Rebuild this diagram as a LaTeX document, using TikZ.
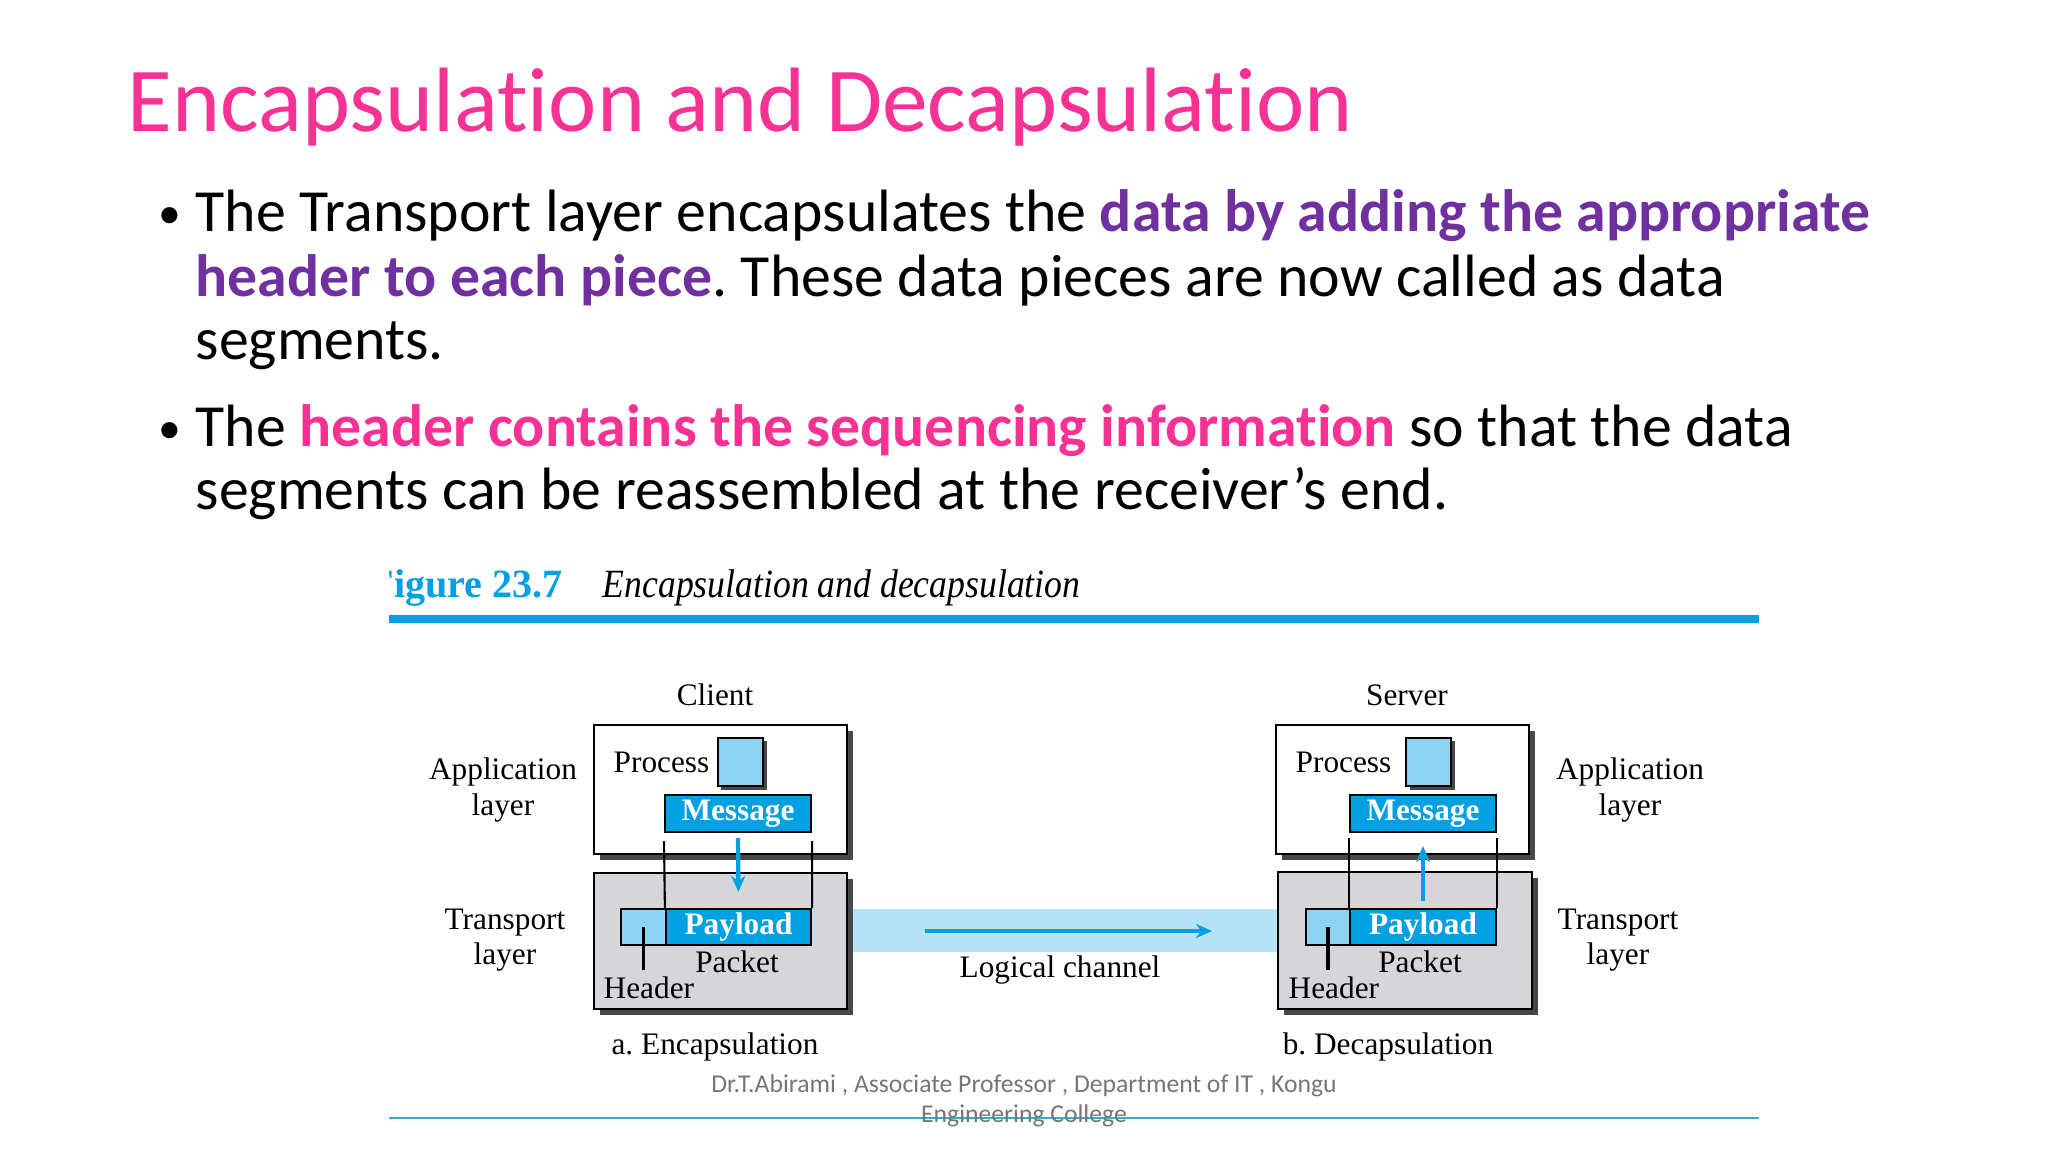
\documentclass[tikz,border=0pt]{standalone}
\usepackage{fontspec}
\setmainfont[Ligatures=NoCommon]{Carlito}
\newfontfamily\figfont{Liberation Serif}
\newfontfamily\capfont[FakeStretch=0.89]{Liberation Serif}
\usetikzlibrary{shadows,arrows.meta}
\frenchspacing

\definecolor{titlepink}{RGB}{248,50,148}
\definecolor{notepurple}{RGB}{112,48,160}
\definecolor{figblue}{RGB}{0,160,226}
\definecolor{procblue}{RGB}{140,212,242}
\definecolor{chanblue}{RGB}{182,226,246}
\definecolor{layergray}{RGB}{214,214,218}
\definecolor{shadowgray}{RGB}{72,72,72}
\definecolor{footgray}{RGB}{118,118,118}
\definecolor{rulecyan}{RGB}{60,170,205}

\tikzset{
  bodytext/.style={anchor=base west, inner sep=0, font=\fontsize{17}{17}\selectfont},
  bulletdot/.style={anchor=base west, inner sep=0, font=\fontsize{13}{13}\selectfont},
  figtext/.style={font=\figfont\fontsize{8.9}{10}\selectfont, inner sep=0, align=center},
  layerbox/.style={draw, line width=0.6pt, inner sep=0,
    general shadow={fill=shadowgray, shadow xshift=0.06cm, shadow yshift=-0.06cm}},
  procbox/.style={draw, line width=0.6pt, fill=procblue, inner sep=0,
    minimum width=0.45cm, minimum height=0.48cm,
    general shadow={fill=shadowgray, shadow xshift=0.035cm, shadow yshift=-0.035cm}},
  bluebar/.style={draw, line width=0.6pt, fill=figblue, text=white, inner sep=0,
    minimum height=0.37cm, font=\figfont\bfseries\fontsize{8.9}{10}\selectfont},
  hdrbox/.style={draw, line width=0.6pt, fill=procblue, inner sep=0,
    minimum width=0.45cm, minimum height=0.36cm},
  flow/.style={figblue, line width=1.2pt, -{Stealth[length=0.16cm, width=0.14cm]}},
  guide/.style={line width=0.6pt},
  tick/.style={line width=0.9pt}
}

\begin{document}
\begin{tikzpicture}[x=0.01cm, y=-0.01cm]
\useasboundingbox[fill=white] (0,0) rectangle (2048,1152);

% Slide title and bullets
\node[anchor=base west, inner sep=0, text=titlepink, font=\fontsize{26}{26}\selectfont] (title) at (127,132) {Encapsulation and Decapsulation};
\node[bulletdot] (dotA) at (158,229) {•};
\node[bodytext] (lineA1) at (195,232) {The Transport layer encapsulates the \textcolor{notepurple}{\textbf{data by adding the appropriate}}};
\node[bodytext] (lineA2) at (195,297) {\textcolor{notepurple}{\textbf{header to each piece}}. These data pieces are now called as data};
\node[bodytext] (lineA3) at (195,360) {segments.};
\node[bulletdot] (dotB) at (158,444) {•};
\node[bodytext] (lineB1) at (195,447) {The \textcolor{titlepink}{\textbf{header contains the sequencing information}} so that the data};
\node[bodytext] (lineB2) at (195,510) {segments can be reassembled at the receiver’s end.};

% Figure caption
\begin{scope}
  \clip (389,560) rectangle (1100,612);
  \node[anchor=base west, inner sep=0, text=figblue, font=\figfont\bfseries\fontsize{11.4}{12}\selectfont] (fignum) at (369,597) {Figure 23.7};
\end{scope}
\node[anchor=base west, inner sep=0, font=\capfont\itshape\fontsize{11.4}{12}\selectfont] (figcap) at (602,597) {Encapsulation and decapsulation};
\draw[figblue, line width=2pt] (389,619) -- (1759,619);

% Logical channel
\node[fill=chanblue, inner sep=0, minimum width=4.31cm, minimum height=0.43cm] (chan) at (1062.5,930.5) {};
\coordinate (chanin) at (925,931);
\coordinate (chanout) at (1212,931);
\draw[flow, line width=0.9pt] (chanin) -- (chanout);
\node[figtext] (chanlbl) at (1060,970) {Logical channel};

% Client: encapsulation
\node[figtext] (client) at (715,695) {Client};
\node[layerbox, fill=white, minimum width=2.53cm, minimum height=1.29cm] (appA) at (720.5,789.5) {};
\node[layerbox, fill=layergray, minimum width=2.53cm, minimum height=1.36cm] (trA) at (720.5,941) {};
\node[figtext, anchor=west] (procA) at (613,762) {Process};
\node[procbox] (sqA) at (740.5,762) {};
\node[bluebar, minimum width=1.46cm] (msgA) at (738,813.5) {Message};
\node[hdrbox] (hdrA) at (643.5,927) {};
\node[bluebar, minimum width=1.45cm, minimum height=0.36cm] (payA) at (738.5,927) {Payload};
\node[figtext] (pktA) at (737,962) {Packet};
\node[figtext, anchor=west] (hdrtxtA) at (603,988) {Header};
\draw[guide, shorten <=0.08cm] (msgA.south west) -- (payA.north west);
\draw[guide, shorten <=0.08cm] (msgA.south east) -- (payA.north east);
\draw[flow, shorten <=0.05cm, shorten >=0.16cm] (msgA.south) -- (payA.north);
\draw[tick, shorten >=0.06cm] (hdrA.center) -- (hdrA.center |- hdrtxtA.north);
\node[figtext] (applA) at (503,790) {Application\\layer};
\node[figtext] (tranA) at (505,940) {Transport\\layer};
\node[figtext] (capA) at (715,1047) {a. Encapsulation};

% Server: decapsulation
\node[figtext] (server) at (1407,695) {Server};
\node[layerbox, fill=white, minimum width=2.53cm, minimum height=1.29cm] (appB) at (1402.5,789.5) {};
\node[layerbox, fill=layergray, minimum width=2.54cm, minimum height=1.37cm] (trB) at (1405,940.5) {};
\node[figtext, anchor=west] (procB) at (1295,762) {Process};
\node[procbox] (sqB) at (1428.5,762) {};
\node[bluebar, minimum width=1.46cm] (msgB) at (1423,813.5) {Message};
\node[hdrbox, minimum width=0.44cm] (hdrB) at (1328,927) {};
\node[bluebar, minimum width=1.46cm, minimum height=0.36cm] (payB) at (1423,927) {Payload};
\node[figtext] (pktB) at (1420,962) {Packet};
\node[figtext, anchor=west] (hdrtxtB) at (1288,988) {Header};
\draw[guide, shorten <=0.05cm] (msgB.south west) -- (payB.north west);
\draw[guide, shorten <=0.05cm] (msgB.south east) -- (payB.north east);
\draw[flow, shorten <=0.07cm, shorten >=0.13cm] (payB.north) -- (msgB.south);
\draw[tick, shorten >=0.06cm] (hdrB.center) -- (hdrB.center |- hdrtxtB.north);
\node[figtext] (applB) at (1630,790) {Application\\layer};
\node[figtext] (tranB) at (1618,940) {Transport\\layer};
\node[figtext] (capB) at (1388,1047) {b. Decapsulation};

% Footer
\draw[rulecyan, line width=0.4pt] (389,1118) -- (1759,1118);
\node[anchor=base, inner sep=0, text=footgray, font=\fontsize{7.3}{8}\selectfont] (footA) at (1024,1092) {Dr.T.Abirami , Associate Professor , Department of IT , Kongu};
\node[anchor=base, inner sep=0, text=footgray, font=\fontsize{7.3}{8}\selectfont] (footB) at (1024,1122) {Engineering College};
\end{tikzpicture}
\end{document}
